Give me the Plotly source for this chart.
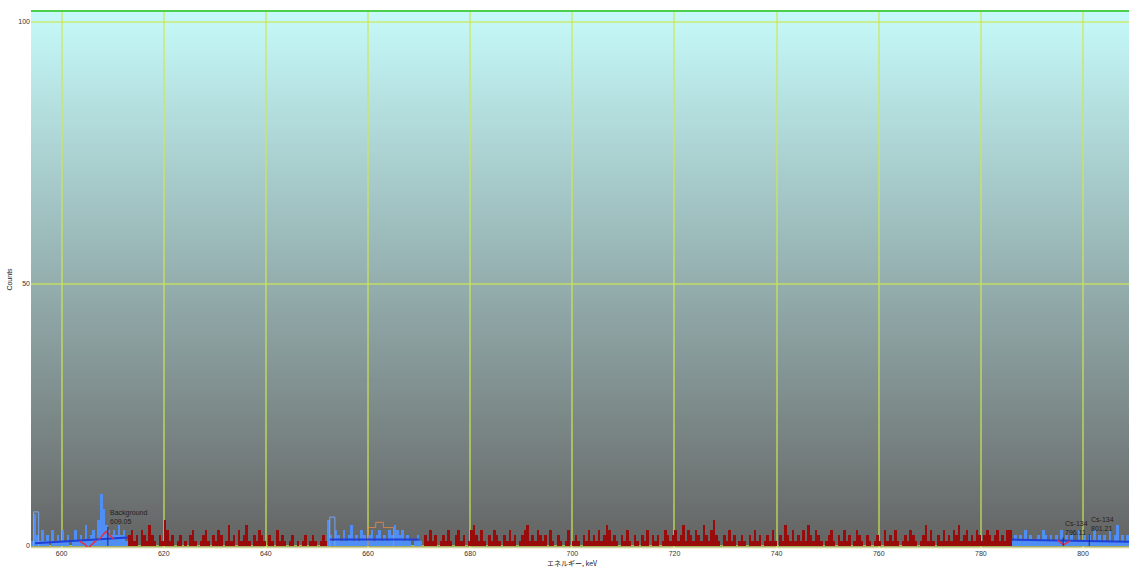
import base64
import struct
import zlib

import plotly.graph_objects as go

# ---------------- data ----------------
start_kev = 594.0
chan_kev = 0.5
counts = [
    1,6,2,1,3,1,2,0,3,1,2,1,3,1,2,0,1,3,1,2,          # 594-604
    1,4,1,2,3,1,5,10,7,4,3,2,3,2,4,2,3,1,2,3,         # 604-614
    1,2,0,3,2,1,4,2,1,0,2,1,5,3,1,2,0,1,2,0,          # 614-624
    1,0,2,3,1,0,1,2,3,1,0,2,1,3,2,0,1,4,1,2,          # 624-634
    0,3,1,2,4,1,0,2,1,3,2,1,0,2,1,0,3,1,2,1,          # 634-644
    0,1,2,0,1,0,1,2,0,1,2,1,0,1,2,1,5,2,1,3,          # 644-654
    2,1,3,1,2,4,1,2,1,3,2,1,2,3,1,2,3,1,2,1,          # 654-664
    3,2,4,3,2,3,1,2,1,0,1,2,1,0,2,1,3,1,2,0,          # 664-674
    1,2,1,3,1,0,2,3,1,2,0,1,3,4,2,1,3,1,0,2,          # 674-684
    1,3,2,1,0,2,1,3,1,2,0,1,2,3,4,1,2,1,3,2,          # 684-694
    1,2,0,3,1,0,2,1,0,1,3,0,1,2,1,0,2,1,3,1,          # 694-704
    2,1,3,1,2,4,3,1,2,1,0,2,1,3,1,0,2,1,0,2,          # 704-714
    1,3,0,2,1,2,0,1,3,2,1,2,3,1,2,4,1,3,2,1,          # 714-724
    3,2,1,4,2,1,3,5,2,1,0,2,1,3,1,2,0,1,2,1,          # 724-734
    0,2,1,3,1,2,0,1,2,1,3,1,0,2,1,4,2,1,3,1,          # 734-744
    2,1,3,1,4,2,1,3,2,1,0,1,2,3,1,0,2,1,3,1,          # 744-754
    2,0,1,3,2,1,0,2,1,0,1,2,1,0,3,1,2,1,3,1,          # 754-764
    0,1,2,1,3,2,1,0,1,2,4,1,3,1,0,2,1,3,1,2,          # 764-774
    1,3,2,4,1,2,3,1,2,1,3,2,1,2,3,2,1,2,3,1,          # 774-784
    2,1,3,3,1,2,1,2,1,3,1,2,1,1,2,1,3,2,1,2,          # 784-794
    1,2,1,3,1,2,1,2,1,1,3,1,2,1,2,1,3,1,2,1,          # 794-804
    2,1,3,1,2,4,1,2,1,2,                              # 804-809
]
roi_ranges = [(594.0, 613.0), (652.0, 670.5), (786.0, 809.0)]

# background (continuum) lines for each ROI
bg_x = [[594.8, 613.0], [652.5, 670.0], [786.0, 809.0]]
bg_y = [[0.5, 1.6], [1.2, 1.2], [1.2, 0.8]]

# fitted-peak residual curves (red)
fit1_x = [603.5, 604.5, 605.2, 606.0, 606.8]
fit1_y = [0.9, 0.3, -0.4, 0.4, 1.1]
fit2_x = [607.3, 608.0, 608.7, 609.4, 610.2]
fit2_y = [1.2, 2.0, 2.8, 2.0, 1.3]
fit3_x = [795.0, 795.7, 796.2, 796.8, 797.5]
fit3_y = [1.1, 0.6, 0.2, 0.6, 1.0]

# ROI marker outlines (light blue / orange step markers)
mark_blue_x = [594.5, 594.5, 595.5, 595.5]
mark_blue_y = [0, 6.5, 6.5, 0]
mark_blue2_x = [652.5, 652.5, 653.5, 653.5]
mark_blue2_y = [0, 5.5, 5.5, 0]
mark_orange_x = [660.0, 660.0, 661.5, 661.5, 663.0, 663.0, 665.0, 665.0]
mark_orange_y = [0, 3.5, 3.5, 4.5, 4.5, 3.5, 3.5, 0]

peak_labels = ["Background<br>609.05", "Cs-134<br>796.11", "Cs-134<br>801.21"]
peak_energy = [609.05, 796.11, 801.21]
label_y = [3.6, 1.6, 2.2]

x_ticks = [600, 620, 640, 660, 680, 700, 720, 740, 760, 780, 800]
y_ticks = [0, 50, 100]


# ---------------- gradient background image ----------------
def gradient_png(top, bot, h=256):
    raw = b""
    for r in range(h):
        t = r / (h - 1)
        c = bytes(int(round(top[k] + (bot[k] - top[k]) * t)) for k in range(3))
        raw += b"\x00" + c
    def chunk(tag, data):
        return (struct.pack(">I", len(data)) + tag + data +
                struct.pack(">I", zlib.crc32(tag + data) & 0xFFFFFFFF))
    png = b"\x89PNG\r\n\x1a\n"
    png += chunk(b"IHDR", struct.pack(">IIBBBBB", 1, h, 8, 2, 0, 0, 0))
    png += chunk(b"IDAT", zlib.compress(raw))
    png += chunk(b"IEND", b"")
    return "data:image/png;base64," + base64.b64encode(png).decode()


bg_src = gradient_png((198, 250, 250), (100, 100, 100))

# ---------------- figure ----------------
centers = [start_kev + chan_kev * i + chan_kev / 2 for i in range(len(counts))]


def in_roi(e):
    return any(a <= e < b for a, b in roi_ranges)


colors = ["#4f8ef5" if in_roi(c) else "#9a0b0b" for c in centers]

fig = go.Figure()
fig.add_trace(go.Bar(x=centers, y=counts, width=chan_kev, marker_color=colors,
                     marker_line_width=0, showlegend=False))

for xs, ys in [(mark_blue_x, mark_blue_y), (mark_blue2_x, mark_blue2_y)]:
    fig.add_trace(go.Scatter(x=xs, y=ys, mode="lines",
                             line=dict(color="rgba(120,170,255,0.9)", width=1),
                             showlegend=False))
fig.add_trace(go.Scatter(x=mark_orange_x, y=mark_orange_y, mode="lines",
                         line=dict(color="rgba(230,140,70,0.8)", width=1),
                         showlegend=False))

for xs, ys in zip(bg_x, bg_y):
    fig.add_trace(go.Scatter(x=xs, y=ys, mode="lines",
                             line=dict(color="#1f3fd6", width=2), showlegend=False))

for xs, ys in [(fit1_x, fit1_y), (fit2_x, fit2_y), (fit3_x, fit3_y)]:
    fig.add_trace(go.Scatter(x=xs, y=ys, mode="lines",
                             line=dict(color="#e0304a", width=1.5), showlegend=False))

for e, ly in zip(peak_energy, label_y):
    fig.add_trace(go.Scatter(x=[e, e], y=[0, ly], mode="lines",
                             line=dict(color="#202a60", width=1), showlegend=False))

for txt, e, ly in zip(peak_labels, peak_energy, label_y):
    fig.add_annotation(x=e, y=ly, text=txt, showarrow=False, xanchor="left",
                       yanchor="bottom", align="left",
                       font=dict(size=7, color="#222222", family="Liberation Sans"))

fig.add_annotation(x=0.493, y=0, xref="paper", yref="paper", yanchor="top",
                   yshift=-8, showarrow=False, text="エネルギー, keV",
                   font=dict(size=7, family="Noto Sans CJK JP", color="#222222"))

fig.add_layout_image(dict(source=bg_src, xref="paper", yref="paper", x=0, y=1,
                          sizex=1, sizey=1, sizing="stretch", xanchor="left",
                          yanchor="top", layer="below"))

shapes = [
    dict(type="line", xref="paper", yref="paper", x0=0, x1=1, y0=1, y1=1,
         line=dict(color="#4ccf4c", width=2)),
    dict(type="line", xref="paper", yref="paper", x0=0, x1=1, y0=0, y1=0,
         line=dict(color="#f4f0c8", width=1.5)),
]

fig.update_layout(
    width=1129, height=567,
    margin=dict(l=31, r=0, t=11, b=19),
    paper_bgcolor="white", plot_bgcolor="#888888",
    bargap=0, shapes=shapes,
    font=dict(family="Liberation Sans", size=7, color="#333333"),
)
grid_col = "rgba(205,232,80,0.6)"
fig.update_xaxes(range=[594.0, 809.0], tickvals=x_ticks, ticks="",
                 showgrid=True, gridcolor=grid_col, gridwidth=2,
                 zeroline=False, showline=False,
                 tickfont=dict(size=7, color="#333333"))
fig.update_yaxes(range=[-0.4, 102.1], tickvals=y_ticks, ticks="",
                 showgrid=True, gridcolor=grid_col, gridwidth=2,
                 zeroline=False, showline=False,
                 tickfont=dict(size=7, color="#333333"),
                 title=dict(text="Counts", standoff=4,
                            font=dict(size=7, color="#222222")))

fig.write_html("out.html", config={"displayModeBar": False},
               post_script="document.body.style.margin='0';document.body.style.overflow='hidden';")
